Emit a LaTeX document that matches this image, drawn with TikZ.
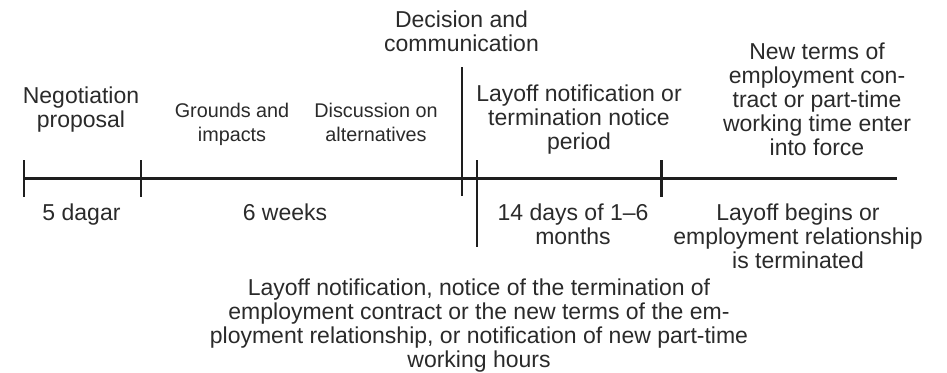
\documentclass[tikz,border=0pt]{standalone}
\usepackage{fontspec}
\setmainfont{Liberation Sans}
\definecolor{txt}{HTML}{2A2A2A}
\definecolor{ln}{HTML}{1E1E1E}
\begin{document}
\begin{tikzpicture}[x=1pt,y=-1pt,
  lbl/.style={anchor=base,align=center,inner sep=0pt,text=txt,font=\fontsize{23}{24}\selectfont},
  sml/.style={lbl,font=\fontsize{19.8}{24}\selectfont},
  tl/.style={draw=ln,line width=2.8pt},
  tick/.style={draw=ln,line width=2.6pt}]
\useasboundingbox (0,0) rectangle (947,372);
% timeline
\coordinate (s) at (24,178.5);
\coordinate (e) at (897,178.5);
\draw[tl] (s) -- (e);
% ticks
\coordinate (t1a) at (24,160);  \coordinate (t1b) at (24,197);
\coordinate (t2a) at (141,160); \coordinate (t2b) at (141,197);
\coordinate (t3a) at (462,67);  \coordinate (t3b) at (462,196);
\coordinate (t4a) at (477,160); \coordinate (t4b) at (477,247);
\coordinate (t5a) at (661.5,160); \coordinate (t5b) at (661.5,197);
\draw[tick] (t1a) -- (t1b);
\draw[tick] (t2a) -- (t2b);
\draw[tick] (t3a) -- (t3b);
\draw[tick] (t4a) -- (t4b);
\draw[tick] (t5a) -- (t5b);
% labels above (anchored at baseline of last line)
\node[lbl] (neg) at (81,127) {Negotiation\\proposal};
\node[sml] (grd) at (232,141) {Grounds and\\impacts};
\node[sml] (dis) at (376,141) {Discussion on\\alternatives};
\node[lbl] (dec) at (461.5,51) {Decision and\\communication};
\node[lbl] (lno) at (579,149) {Layoff notification or\\termination notice\\period};
\node[lbl] (ntm) at (817,155) {New terms of\\employment con-\\tract or part-time\\working time enter\\into force};
% labels below
\node[lbl] (d5) at (81.5,220) {5 dagar};
\node[lbl] (w6) at (285,220) {6 weeks};
\node[lbl] (d14) at (573,244) {14 days of 1–6\\months};
\node[lbl] (lbg) at (798,268) {Layoff begins or\\employment relationship\\is terminated};
\node[lbl] (bot) at (479,367) {Layoff notification, notice of the termination of\\employment contract or the new terms of the em-\\ployment relationship, or notification of new part-time\\working hours};
\end{tikzpicture}
\end{document}
